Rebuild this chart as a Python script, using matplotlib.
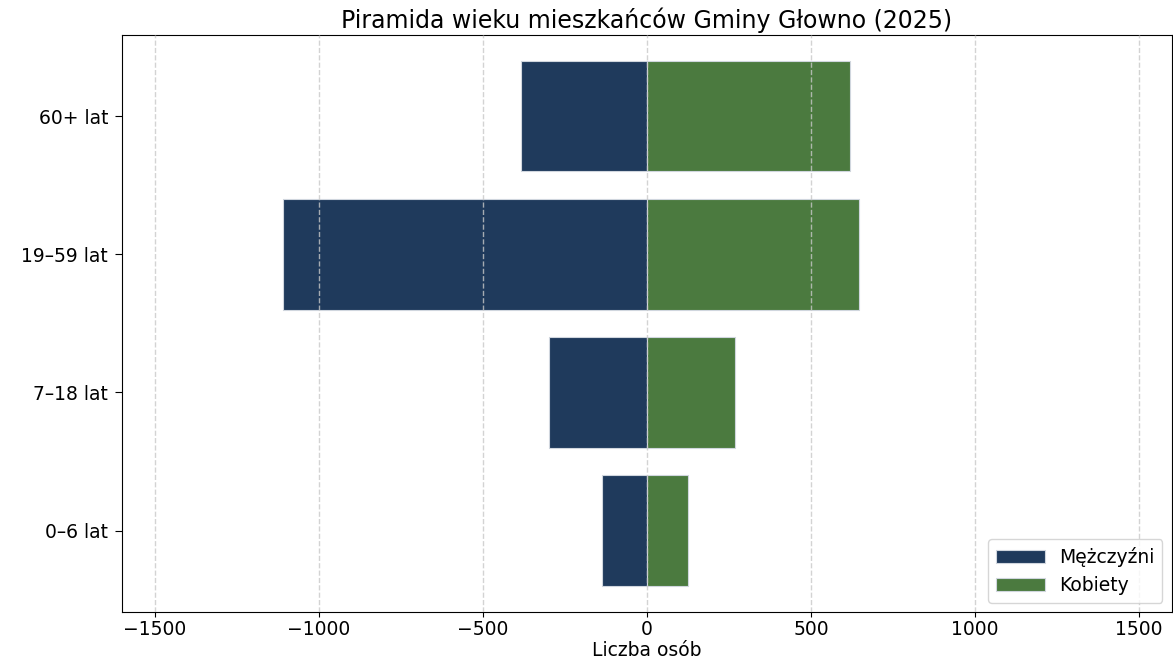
import numpy as np
from matplotlib import pyplot as plt

# dane: piramida wieku
age_groups = ['0–6 lat', '7–18 lat', '19–59 lat', '60+ lat']
men = [137, 298, 1108, 383]
women = [125, 269, 647, 619]

men_color = '#1f3a5c'
women_color = '#4b7a3f'

fig = plt.figure(figsize=(11.73, 6.62), dpi=100)
ax = fig.add_axes([0.104, 0.0755, 0.895, 0.872])

y = np.arange(len(age_groups))
ax.barh(y, -np.array(men), height=0.8, color=men_color, edgecolor='#d0d6de',
        linewidth=0.8, label='Mężczyźni')
ax.barh(y, women, height=0.8, color=women_color, edgecolor='#d0d6de',
        linewidth=0.8, label='Kobiety')

ax.set_yticks(y)
ax.set_yticklabels(age_groups, fontsize=13.5)
ax.tick_params(axis='y', length=5, pad=5)
ax.set_xlim(-1600, 1600)
ax.set_xticks([-1500, -1000, -500, 0, 500, 1000, 1500])
ax.set_xticklabels(['\u22121500', '\u22121000', '\u2212500', '0', '500', '1000', '1500'])
ax.tick_params(axis='x', labelsize=13.5, pad=2.5)
ax.grid(axis='x', linestyle='--', color='#c8c8c8', alpha=0.8, linewidth=1)
ax.set_axisbelow(False)

ax.set_xlabel('Liczba osób', fontsize=13.5, labelpad=1)
ax.set_title('Piramida wieku mieszkańców Gminy Głowno (2025)', fontsize=17, pad=5)
ax.legend(loc='lower right', fontsize=13.5, handlelength=2.6)

plt.savefig('out.png', dpi=100)
